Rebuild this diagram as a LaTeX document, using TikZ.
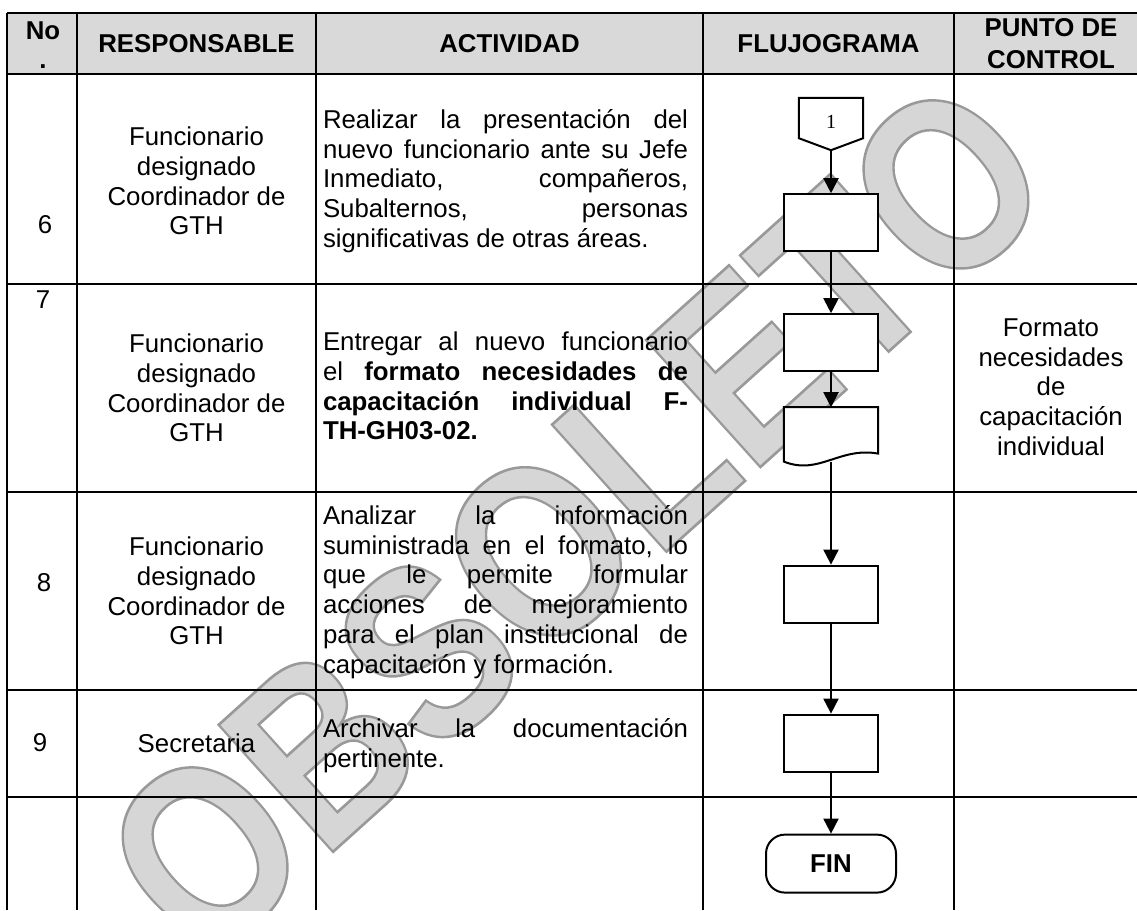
\documentclass[tikz,border=0pt]{standalone}
\usepackage{fontspec}
\setmainfont{Liberation Sans}
\newfontfamily\numfont{Liberation Serif}
\usetikzlibrary{arrows.meta, calc, positioning}
\setlength{\parindent}{0pt}
\hyphenpenalty=10000
\tolerance=10000
\hbadness=10000
\newcommand{\cellfont}{\fontsize{25.8}{29.7}\selectfont}
\newcommand{\wmfont}{\fontsize{207}{207}\selectfont\bfseries}
% outlined watermark letters: fill + stroke in grey
\newcommand{\wmstroke}{\special{pdf:literal direct 2 Tr 2.2 w 0.6 G}}

\begin{document}
\begin{tikzpicture}[
        x=1pt, y=-1pt,
        grid/.style={line width=2.3pt, draw=black},
        head/.style={font=\cellfont\bfseries, inner sep=0pt, align=center},
        cell/.style={font=\cellfont, inner sep=0pt, align=center},
        actcell/.style={font=\cellfont, inner sep=0pt, text width=365pt, align=justify},
        proc/.style={rectangle, draw=black, fill=white, line width=2pt, minimum width=94pt, minimum height=57pt, inner sep=0pt},
        docbox/.style={rectangle, draw=none, minimum width=94pt, minimum height=54pt, inner sep=0pt},
        term/.style={rectangle, draw=black, fill=white, line width=2pt, rounded corners=19pt, minimum width=130pt, minimum height=58pt, font=\cellfont\bfseries},
        conn/.style={rectangle, draw=none, minimum width=64pt, minimum height=40pt, inner sep=0pt, text height=20pt, text depth=0pt, font=\numfont\fontsize{20}{20}\selectfont},
        outl/.style={line width=2pt, draw=black, line join=miter},
        flow/.style={-{Triangle[width=15pt, length=15pt]}, line width=2pt, draw=black},
        wmark/.style={font=\wmfont, text=black!16, inner sep=0pt, rotate=42, yscale=1.2}
        ]

        \clip (0,0) rectangle (1137,910);

        % Watermark (behind everything)
        \node (wm) [wmark] at (576,518) {\wmstroke OBSOLETO};

        % Table grid
        \fill[black!15] (7,12.7) rectangle (1137,74);
        \foreach \xx in {7,77,316,703,954}
            \draw[grid] (\xx,12.7) -- (\xx,910);
        \foreach \yy in {12.7,74,284,492,690,797}
            \draw[grid] (7,\yy) -- (1137,\yy);

        % Header row
        \node (hno) [head, anchor=base] at (43,39) {No};
        \node (hdot) [head, anchor=base] at (43,68) {.};
        \node (hresp) [head] at (196.5,44) {RESPONSABLE};
        \node (hact) [head] at (509.5,44) {ACTIVIDAD};
        \node (hflu) [head] at (828.5,44) {FLUJOGRAMA};
        \node (hpc) [head] at (1051,44) {PUNTO DE\\[2.3pt]CONTROL};

        % Step numbers
        \node (n6) [cell] at (45,225) {6};
        \node (n7) [cell] at (43,300) {7};
        \node (n8) [cell] at (44,583) {8};
        \node (n9) [cell] at (40,743) {9};

        % Responsables
        \node (r6) [cell] at (196.5,181) {Funcionario\\designado\\Coordinador de\\GTH};
        \node (r7) [cell] at (196.5,388) {Funcionario\\designado\\Coordinador de\\GTH};
        \node (r8) [cell] at (196.5,591) {Funcionario\\designado\\Coordinador de\\GTH};
        \node (r9) [cell] at (196.5,743) {Secretaria};

        % Actividades
        \node (a6) [actcell] at (505.5,181) {Realizar la presentación del\linebreak
            nuevo funcionario ante su Jefe\linebreak
            Inmediato, compañeros,\linebreak
            Subalternos, personas\linebreak
            significativas de otras áreas.};
        \node (a7) [actcell] at (505.5,386) {Entregar al nuevo funcionario\linebreak
            el \textbf{formato necesidades de}\linebreak
            \textbf{capacitación individual F-}\linebreak
            \textbf{TH-GH03-02.}};
        \node (a8) [actcell] at (505.5,592) {Analizar la información\linebreak
            suministrada en el formato, lo\linebreak
            que le permite formular\linebreak
            acciones de mejoramiento\linebreak
            para el plan institucional de\linebreak
            capacitación y formación.};
        \node (a9) [actcell] at (505.5,746) {Archivar la documentación\linebreak
            pertinente.};

        % Punto de control
        \node (pc7) [cell] at (1051,387) {Formato\\necesidades\\de\\capacitación\\individual};

        % Flujograma
        \node (con1) [conn] at (831,118) {1};
        \coordinate (c1tip) at ($(con1.south)+(0,12)$);
        \draw [outl] (con1.north west) -- (con1.north east) -- (con1.south east) -- (c1tip) -- (con1.south west) -- cycle;

        \node (p1) [proc, below=55pt of con1] {};
        \node (p2) [proc, below=61pt of p1] {};
        \node (doc) [docbox, below=35pt of p2] {};
        \draw [outl, fill=white] (doc.north west) -- (doc.north east) -- ($(doc.south east)+(0,-8)$)
            .. controls ($(doc.south east)+(-39,-15)$) and ($(doc.south east)+(-59,14)$) .. (doc.south west) -- cycle;
        \node (p3) [proc, below=103pt of doc] {};
        \node (p4) [proc, below=90pt of p3] {};
        \node (fin) [term, below=61pt of p4] {FIN};

        \draw [flow] (c1tip) -- (p1);
        \draw [flow] (p1) -- (p2);
        \draw [flow] (p2) -- (doc);
        \draw [flow] (doc) -- (p3);
        \draw [flow] (p3) -- (p4);
        \draw [flow] (p4) -- (fin);

\end{tikzpicture}
\end{document}
